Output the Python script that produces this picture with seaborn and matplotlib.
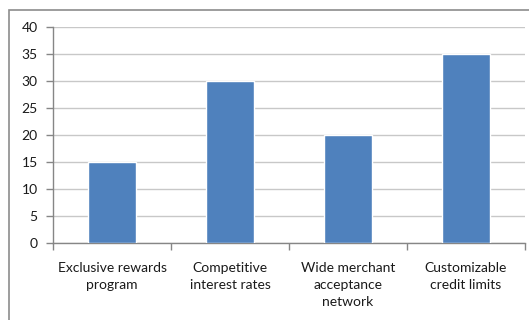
import matplotlib
matplotlib.use("Agg")
import matplotlib.pyplot as plt
import seaborn as sns
import pandas as pd
from matplotlib.patches import Rectangle

categories = ["Exclusive rewards\nprogram", "Competitive\ninterest rates",
              "Wide merchant\nacceptance\nnetwork", "Customizable\ncredit limits"]
values = [15, 30, 20, 35]
yticks = [0, 5, 10, 15, 20, 25, 30, 35, 40]

sns.set_theme(style="white")
plt.rcParams['font.family'] = ['Lato', 'DejaVu Sans']

df = pd.DataFrame({"cat": categories, "val": values})

fig = plt.figure(figsize=(5.29, 3.2), dpi=100)
fig.patch.set_facecolor("white")
W, H = 529, 320
ax = fig.add_axes([53 / W, 77 / H, (525 - 53) / W, (243 - 27) / H])

sns.barplot(data=df, x="cat", y="val", color="#4F81BD", width=0.4,
            saturation=1, ax=ax, zorder=3)

ax.set_xlim(-0.5, 3.5)
ax.set_ylim(0, 40)
ax.set_yticks(yticks)
ax.set_yticklabels([str(v) for v in yticks], fontsize=10, color="#1a1a1a")
ax.set_xlabel("")
ax.set_ylabel("")
ax.set_xticks(range(len(categories)))
ax.set_xticklabels(categories, fontsize=10, color="#1a1a1a", linespacing=1.5)
ax.tick_params(axis="x", which="major", length=0, pad=14)
ax.set_xticks([-0.5, 0.5, 1.5, 2.5, 3.5], minor=True)
ax.tick_params(axis="x", which="minor", length=5, color="#868686", width=1, direction="out", bottom=True)
ax.tick_params(axis="y", length=5, color="#868686", width=1, direction="out", left=True, pad=6)

ax.yaxis.grid(True, color="#c8c8c8", linewidth=1, zorder=0)
ax.set_axisbelow(True)
for s in ["top", "right"]:
    ax.spines[s].set_visible(False)
ax.spines["left"].set_color("#868686")
ax.spines["bottom"].set_color("#868686")
ax.spines["left"].set_linewidth(1)
ax.spines["bottom"].set_linewidth(1)

# outer chart frame (extends beyond right and bottom edges)
fig.patches.append(Rectangle((8.5 / W, -0.1), 1.2, 1 - 9.5 / H + 0.1,
                             transform=fig.transFigure, fill=False,
                             edgecolor="#8c8c8c", linewidth=1.2))

fig.savefig("out.png", dpi=100)
